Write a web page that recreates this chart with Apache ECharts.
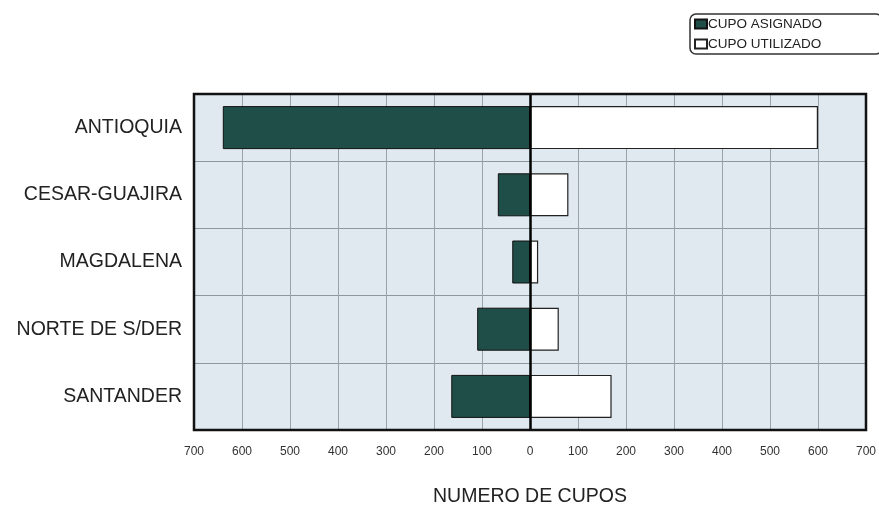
<!DOCTYPE html>
<html>
<head>
<meta charset="utf-8">
<script src="https://cdn.jsdelivr.net/npm/echarts@6/dist/echarts.min.js"></script>
<style>html,body{margin:0;padding:0;background:#fff}#c{width:879px;height:505px}</style>
</head>
<body>
<div id="c"></div>
<script>
const categories = ['ANTIOQUIA', 'CESAR-GUAJIRA', 'MAGDALENA', 'NORTE DE S/DER', 'SANTANDER'];
const cupoAsignado = [640, 67, 37, 110, 164];
const cupoUtilizado = [600, 80, 17, 60, 170];
const seriesNames = ['CUPO ASIGNADO', 'CUPO UTILIZADO'];
const axisTitle = 'NUMERO DE CUPOS';

const chart = echarts.init(document.getElementById('c'), null, {renderer: 'canvas'});
const font = "'Liberation Sans', Arial, sans-serif";
const G = {left: 194, right: 13, top: 94, bottom: 75};
chart.setOption({
  animation: false,
  backgroundColor: '#ffffff',
  textStyle: {fontFamily: font},
  legend: {
    orient: 'vertical',
    left: 690, top: 14,
    padding: [3, 60, 3, 4],
    icon: 'rect',
    itemWidth: 12, itemHeight: 9, itemGap: 6,
    borderColor: '#333', borderWidth: 1.5, borderRadius: 6,
    backgroundColor: '#fff',
    textStyle: {fontSize: 13.5, color: '#222', fontFamily: font, padding: [0, 0, 0, -4]},
    data: seriesNames
  },
  grid: {
    left: G.left, right: G.right, top: G.top, bottom: G.bottom,
    containLabel: false, outerBoundsMode: 'none',
    show: true, backgroundColor: '#dfe9ef',
    borderColor: '#111', borderWidth: 0
  },
  graphic: [{
    type: 'rect', z: 100, silent: true,
    shape: {x: G.left, y: G.top, width: 879 - G.left - G.right, height: 505 - G.top - G.bottom},
    style: {fill: 'none', stroke: '#111', lineWidth: 2.5}
  }],
  xAxis: {
    type: 'value', min: -700, max: 700, interval: 100,
    axisLine: {show: false}, axisTick: {show: false},
    splitLine: {show: true, lineStyle: {color: '#9aa3a8', width: 1}},
    axisLabel: {
      margin: 16, fontSize: 12, color: '#333',
      fontFamily: "'Liberation Sans Narrow', 'Liberation Sans', Arial, sans-serif",
      formatter: v => String(Math.abs(v))
    },
    name: axisTitle, nameLocation: 'middle', nameGap: 57,
    nameTextStyle: {fontSize: 19.5, color: '#222', fontFamily: font}
  },
  yAxis: {
    type: 'category', data: categories, inverse: true,
    axisLine: {show: false}, axisTick: {show: false},
    splitLine: {show: true, lineStyle: {color: '#8e979c', width: 1}},
    axisLabel: {fontSize: 19.5, color: '#222', margin: 12, fontFamily: font}
  },
  series: [
    {
      name: seriesNames[0], type: 'bar', stack: 'a', barWidth: 43,
      data: cupoAsignado.map(v => -v),
      itemStyle: {color: '#1f4e49', borderColor: '#111', borderWidth: 1},
      markLine: {
        silent: true, symbol: 'none', label: {show: false},
        lineStyle: {color: '#000', width: 2.5, type: 'solid'},
        data: [{xAxis: 0}]
      }
    },
    {
      name: seriesNames[1], type: 'bar', stack: 'a', barWidth: 43,
      data: cupoUtilizado,
      itemStyle: {color: '#ffffff', borderColor: '#222', borderWidth: 1.2}
    }
  ]
});
</script>
</body>
</html>
